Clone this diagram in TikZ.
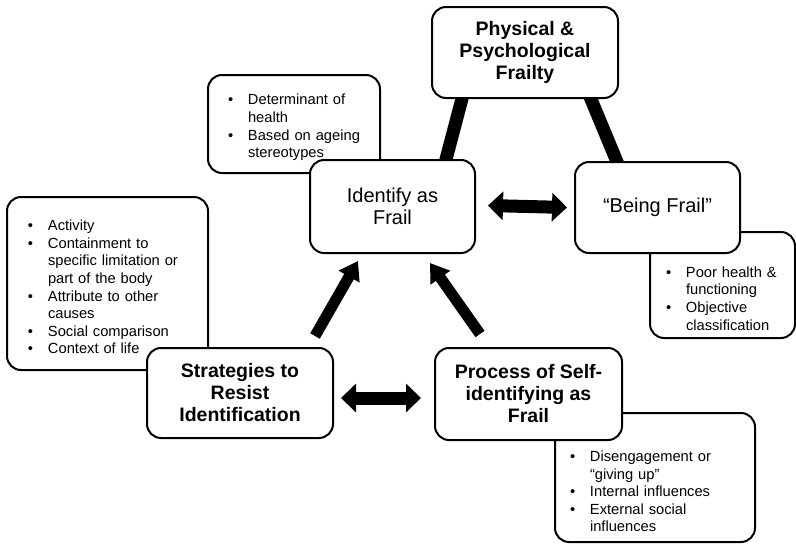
\documentclass[tikz,border=0pt]{standalone}
\usepackage{fontspec}
\setmainfont{Liberation Sans}
\usetikzlibrary{arrows.meta,backgrounds}
\newcommand{\bpt}[1]{\par\hyphenpenalty=10000\relax\hangindent=18pt\hangafter=1\noindent\makebox[18pt][l]{\hspace{-2pt}\textbullet}#1\par}

\begin{document}
\begin{tikzpicture}[x = 1pt, y = -1pt,
	box/.style = {draw, line width = 2pt, rounded corners = 14pt, fill = white, align = center, inner sep = 0pt},
	headbox/.style = {box, font = \fontsize{19.5}{22}\selectfont\bfseries},
	plainbox/.style = {box, font = \fontsize{20}{22.5}\selectfont},
	listbox/.style = {box, align = left, font = \fontsize{14.7}{17.6}\selectfont},
	link/.style = {line width = 13pt},
	arr/.style = {line width = 11pt, -{Triangle[length = 18pt, width = 23pt]}},
	dbl/.style = {line width = 13pt, {Triangle[length = 15pt, width = 28pt]}-{Triangle[length = 15pt, width = 28pt]}}]
	\useasboundingbox (0,0) rectangle (796,544);
	\node[listbox, minimum width = 172pt, minimum height = 98pt, text width = 128pt] (det) at (294,124)
		{\bpt{\mbox{Determinant of}\newline health}\bpt{\mbox{Based on ageing}\newline stereotypes}};
	\node[listbox, minimum width = 201pt, minimum height = 173pt, text width = 155pt] (act) at (107.5,283.5)
		{\bpt{Activity}\bpt{\mbox{Containment to}\newline \mbox{specific limitation or}\newline \mbox{part of the body}}\bpt{\mbox{Attribute to other}\newline causes}\bpt{\mbox{Social comparison}}\bpt{\mbox{Context of life}}};
	\node[listbox, minimum width = 145pt, minimum height = 106pt, text width = 109pt] (poor) at (722.5,285)
		{\vspace*{20pt}\bpt{\mbox{Poor health \&}\newline functioning}\bpt{Objective\newline classification}};
	\node[listbox, minimum width = 200pt, minimum height = 129pt, text width = 166pt] (dis) at (655,477.5)
		{\vspace*{21pt}\bpt{\mbox{Disengagement or}\newline \mbox{“giving up”}}\bpt{\mbox{Internal influences}}\bpt{\mbox{External social}\newline influences}};
	\node[headbox, minimum width = 186pt, minimum height = 91pt] (phys) at (525,52.5) {Physical \&\\Psychological\\Frailty};
	\node[plainbox, minimum width = 165pt, minimum height = 93pt] (ident) at (392.5,206.5) {Identify as\\Frail};
	\node[plainbox, minimum width = 165pt, minimum height = 91pt] (being) at (657.5,207.5) {“Being Frail”};
	\node[headbox, minimum width = 186pt, minimum height = 90pt] (strat) at (240,393) {Strategies to\\Resist\\Identification};
	\node[headbox, minimum width = 187pt, minimum height = 92pt] (proc) at (528.5,394) {Process of Self-\\identifying as\\Frail};
	\begin{scope}[on background layer]
		\draw[link] ([xshift = 33pt, yshift = 8pt]phys.south west) -- ([xshift = 135pt, yshift = -8pt]ident.north west);
		\draw[link] ([xshift = -31pt, yshift = 7pt]phys.south east) -- ([xshift = 46pt, yshift = -8pt]being.north west);
	\end{scope}
	\draw[arr] ([xshift = 75pt, yshift = 11pt]strat.north) -- ([xshift = -34.5pt, yshift = -7pt]ident.south);
	\draw[arr] ([xshift = -48.5pt, yshift = 13pt]proc.north) -- ([xshift = 37.5pt, yshift = -9pt]ident.south);
	\draw[dbl] ([xshift = 12pt, yshift = 1pt]ident.east) -- ([xshift = -7pt]being.west);
	\draw[dbl] ([xshift = 7pt, yshift = -5pt]strat.east) -- ([xshift = -13pt, yshift = -4pt]proc.west);
\end{tikzpicture}
\end{document}
